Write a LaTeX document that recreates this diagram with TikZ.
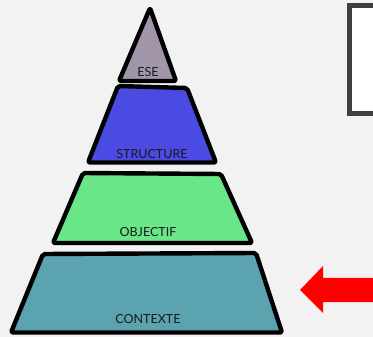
\documentclass[tikz,border=0pt]{standalone}
\usepackage{fontspec}
\setmainfont{Lato}
\definecolor{bg}{HTML}{F2F2F2}
\definecolor{esec}{HTML}{A196A9}
\definecolor{strc}{HTML}{4B4BE3}
\definecolor{objc}{HTML}{69E685}
\definecolor{ctxc}{HTML}{5BA3AE}
\definecolor{boxc}{HTML}{404040}
\begin{document}
\begin{tikzpicture}[x=1pt,y=-1pt,
  layer/.style={draw=black,line width=4.4pt,line join=round,rounded corners=2pt},
  lbl/.style={font=\fontsize{12.5}{13}\selectfont,text=black!90,inner sep=0pt}]
\useasboundingbox[fill=bg] (0,0) rectangle (373,337);
% frame at top right
\draw[boxc,line width=5pt,fill=white] (349.5,5.5) rectangle (380,113.5);
% layers
\draw[layer,fill=esec] (150,8) -- (176,81) -- (119,81) -- cycle;
\draw[layer,fill=strc] (118,86) -- (187,88) -- (216,162.5) -- (88,162.5) -- cycle;
\draw[layer,fill=objc] (83,173) -- (221,174) -- (252,243) -- (53,243) -- cycle;
\draw[layer,fill=ctxc] (43,254) -- (256,253) -- (282,332.5) -- (11,332.5) -- cycle;
% labels
\node[lbl] (ese) at (148,72.5) {ESE};
\node[lbl] (str) at (152,154) {STRUCTURE};
\node[lbl] (obj) at (148,232.5) {OBJECTIF};
\node[lbl] (ctx) at (148,319) {CONTEXTE};
% red arrow
\fill[red] (300,290) -- (323,266) -- (323,278) -- (373,278) -- (373,302) -- (323,302) -- (323,313) -- cycle;
\end{tikzpicture}
\end{document}
